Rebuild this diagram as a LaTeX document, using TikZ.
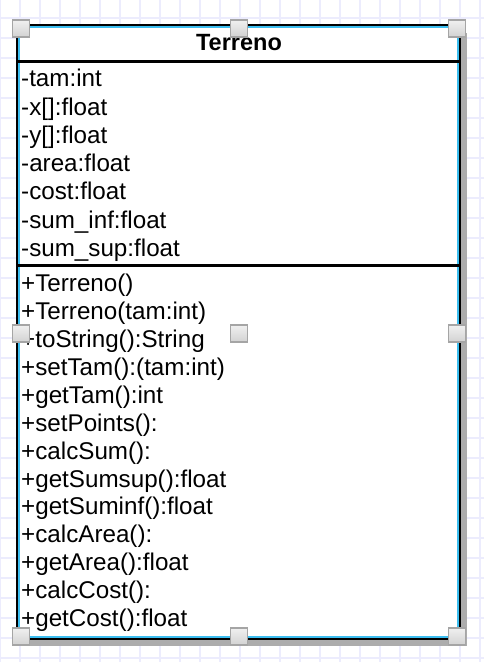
\documentclass[tikz,border=0pt]{standalone}
\usepackage{fontspec}
\setmainfont{Liberation Sans}
\definecolor{gridc}{RGB}{236,236,253}
\definecolor{selc}{RGB}{60,190,240}
\definecolor{shadc}{RGB}{172,172,172}
\definecolor{hbord}{RGB}{165,165,165}
\definecolor{htop}{RGB}{240,240,240}
\definecolor{hbot}{RGB}{210,210,210}
\tikzset{
  gridline/.style={draw=gridc, line width=1.3pt},
  member/.style={anchor=base west, inner sep=0pt, font=\fontsize{24.2}{28}\selectfont},
  titletext/.style={anchor=base, inner sep=0pt, font=\fontsize{23.5}{28}\selectfont\bfseries},
  handle/.style={draw=hbord, line width=1.5pt, top color=htop, bottom color=hbot, minimum size=17pt, inner sep=0pt, rectangle},
  divider/.style={line width=3.5pt, black},
}
\begin{document}
\begin{tikzpicture}[x=1pt, y=-1pt]
\useasboundingbox (0,0) rectangle (484,662);
\fill[white] (0,0) rectangle (484,662);
% grid
\foreach \gx in {0,20,...,480} \draw[gridline] (\gx,0) -- (\gx,662);
\foreach \gy in {18,38,...,658} \draw[gridline] (0,\gy) -- (484,\gy);
% shadow
\fill[shadc] (24,33) rectangle (467,646);
% class box
\fill[white] (17,25) rectangle (460,639);
\draw[black, line width=2.2pt] (17,25) rectangle (460,639);
\draw[selc, line width=1.6pt] (19.2,27.2) rectangle (457.8,636.8);
% dividers
\draw[divider] (18,61.5) -- (459,61.5);
\draw[divider] (18,265.5) -- (459,265.5);
% title
\node[titletext] (title) at (239,50.5) {Terreno};
% attributes
\node[member] (a1) at (21,86.7) {-tam:int};
\node[member] (a2) at (21,115.0) {-x[]:float};
\node[member] (a3) at (21,143.3) {-y[]:float};
\node[member] (a4) at (21,171.6) {-area:float};
\node[member] (a5) at (21,199.9) {-cost:float};
\node[member] (a6) at (21,228.2) {-sum\_inf:float};
\node[member] (a7) at (21,256.5) {-sum\_sup:float};
% methods
\node[member] (m1) at (21,291.7) {+Terreno()};
\node[member] (m2) at (21,319.6) {+Terreno(tam:int)};
\node[member] (m3) at (21,347.5) {+toString():String};
\node[member] (m4) at (21,375.4) {+setTam():(tam:int)};
\node[member] (m5) at (21,403.3) {+getTam():int};
\node[member] (m6) at (21,431.2) {+setPoints():};
\node[member] (m7) at (21,459.1) {+calcSum():};
\node[member] (m8) at (21,487.0) {+getSumsup():float};
\node[member] (m9) at (21,514.9) {+getSuminf():float};
\node[member] (m10) at (21,542.8) {+calcArea():};
\node[member] (m11) at (21,570.7) {+getArea():float};
\node[member] (m12) at (21,598.6) {+calcCost():};
\node[member] (m13) at (21,626.5) {+getCost():float};
% selection handles
\node[handle] (h1) at (21,28.6) {};
\node[handle] (h2) at (239,28.6) {};
\node[handle] (h3) at (457,28.6) {};
\node[handle] (h4) at (21,333.5) {};
\node[handle] (h5) at (239,333.5) {};
\node[handle] (h6) at (457,333.5) {};
\node[handle] (h7) at (21,636.5) {};
\node[handle] (h8) at (239,636.5) {};
\node[handle] (h9) at (457,636.5) {};
\end{tikzpicture}
\end{document}
